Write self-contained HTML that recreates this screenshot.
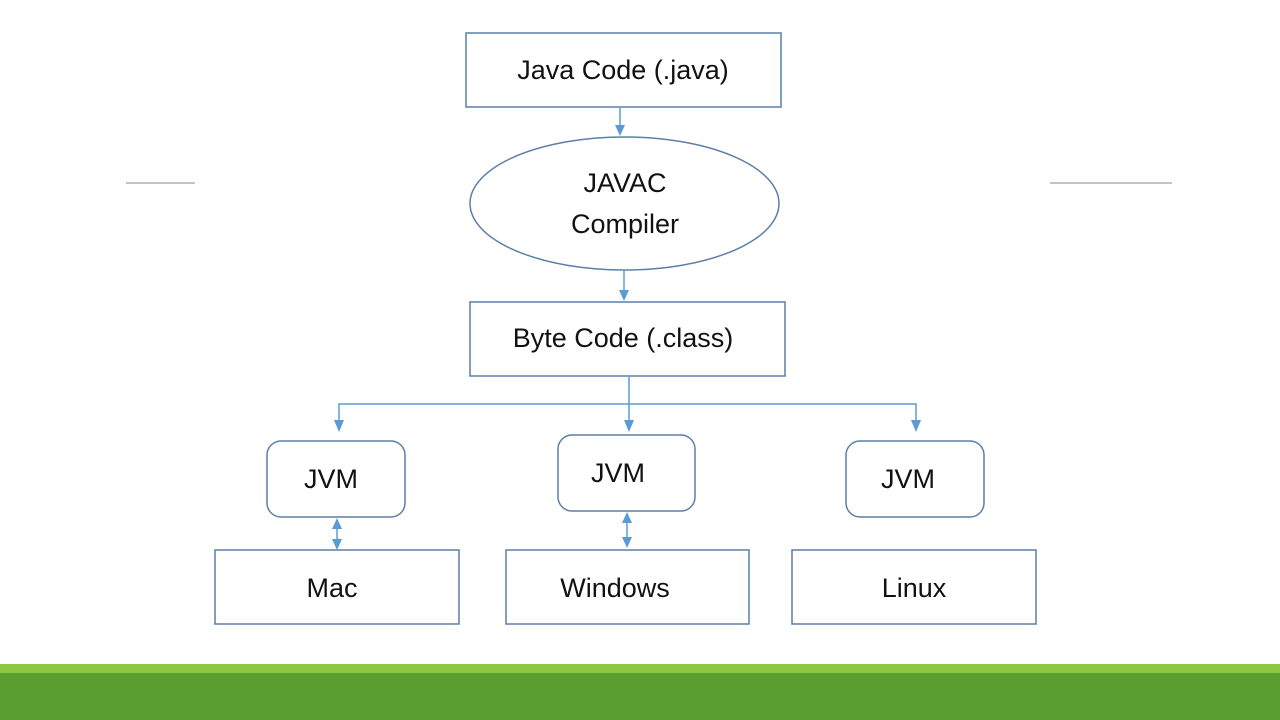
<!DOCTYPE html>
<html><head><meta charset="utf-8"><style>
html,body{margin:0;padding:0;background:#fff;width:1280px;height:720px;overflow:hidden}
text{font-family:"Liberation Sans",sans-serif;font-size:27px;fill:#111;text-anchor:middle;dominant-baseline:central}
</style></head><body>
<svg width="1280" height="720" xmlns="http://www.w3.org/2000/svg">
<g stroke="#888" stroke-width="1"><line x1="126" y1="183" x2="195" y2="183"/><line x1="1050" y1="183" x2="1172" y2="183"/></g>
<g fill="none" stroke="#5b7fa8" stroke-width="1.5">
<rect x="466" y="33" width="315" height="74"/>
<ellipse cx="624.5" cy="203.5" rx="154.5" ry="66.5"/>
<rect x="470" y="302" width="315" height="74"/>
<rect x="267" y="441" width="138" height="76" rx="14"/>
<rect x="558" y="435" width="137" height="76" rx="14"/>
<rect x="846" y="441" width="138" height="76" rx="14"/>
<rect x="215" y="550" width="244" height="74"/>
<rect x="506" y="550" width="243" height="74"/>
<rect x="792" y="550" width="244" height="74"/>
</g>
<g stroke="#5b9bd5" stroke-width="1.5" fill="none">
<line x1="620" y1="108" x2="620" y2="128"/>
<line x1="624" y1="271" x2="624" y2="292"/>
<line x1="629" y1="377" x2="629" y2="422"/>
<polyline points="339,421 339,404 916,404 916,421"/>
<line x1="337" y1="528" x2="337" y2="540"/>
<line x1="627" y1="522" x2="627" y2="538"/>
</g>
<g fill="#5b9bd5">
<polygon points="615,125 625,125 620,136"/>
<polygon points="619,290 629,290 624,301"/>
<polygon points="624,420 634,420 629,432"/>
<polygon points="334,420 344,420 339,432"/>
<polygon points="911,420 921,420 916,432"/>
<polygon points="332,529 342,529 337,518"/>
<polygon points="332,539 342,539 337,550"/>
<polygon points="622,523 632,523 627,512"/>
<polygon points="622,537 632,537 627,548"/>
</g>
<text x="623" y="70">Java Code (.java)</text>
<text x="625" y="183">JAVAC</text>
<text x="625" y="224">Compiler</text>
<text x="623" y="338">Byte Code (.class)</text>
<text x="331" y="479">JVM</text>
<text x="618" y="473">JVM</text>
<text x="908" y="479">JVM</text>
<text x="332" y="588">Mac</text>
<text x="615" y="588">Windows</text>
<text x="914" y="588">Linux</text>
<rect x="0" y="664" width="1280" height="9" fill="#8dc63f"/>
<rect x="0" y="673" width="1280" height="47" fill="#5a9e32"/>
</svg>
</body></html>
